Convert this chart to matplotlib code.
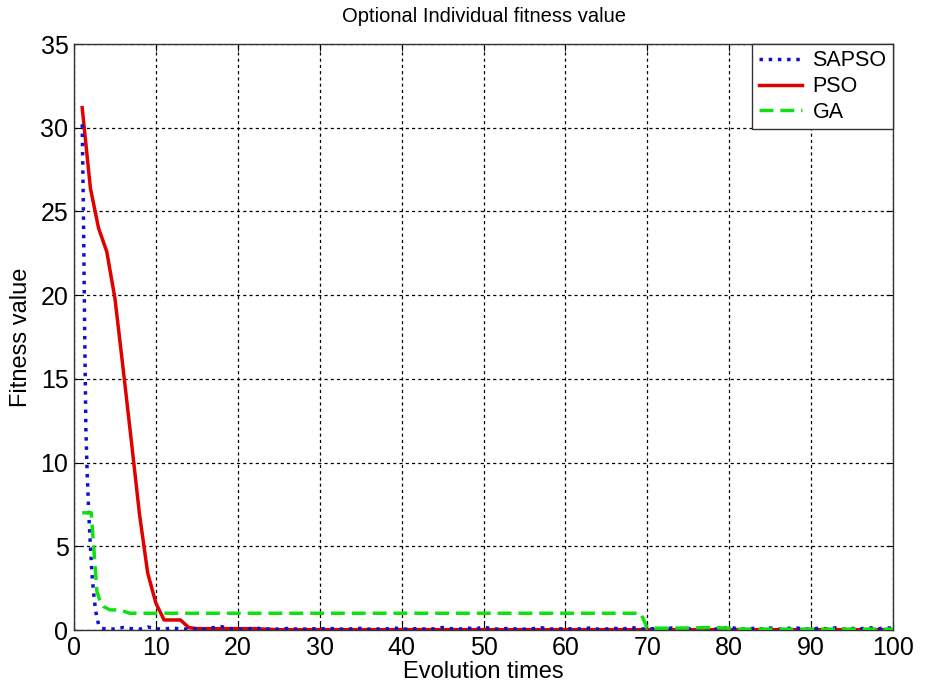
import matplotlib
matplotlib.use("Agg")
import matplotlib.pyplot as plt

plt.rcParams['font.family'] = ['Liberation Sans', 'DejaVu Sans']

# SAPSO: fast drop in the first generations, then noisy near zero
sapso_x = [1.0, 1.15, 1.3, 1.45, 1.6, 1.8, 2.0, 2.2, 2.4, 2.6, 2.8, 3.0, 3.4, 4.0]
sapso_y = [30.2, 25.0, 18.0, 12.0, 9.5, 7.0, 5.0, 3.3, 2.2, 1.3, 0.7, 0.35, 0.1, 0.05]
sapso_tail_x = list(range(5, 101))
sapso_tail_y = [0.06, 0.15, 0.08, 0.05, 0.18, 0.07, 0.05, 0.12, 0.06, 0.05,
                0.08, 0.05, 0.14, 0.20, 0.09, 0.06, 0.05, 0.12, 0.07, 0.05,
                0.05, 0.09, 0.06, 0.05, 0.08, 0.05, 0.11, 0.06, 0.05, 0.07,
                0.10, 0.05, 0.06, 0.05, 0.13, 0.06, 0.05, 0.09, 0.05, 0.07,
                0.15, 0.08, 0.05, 0.12, 0.06, 0.18, 0.07, 0.05, 0.10, 0.06,
                0.05, 0.08, 0.14, 0.06, 0.05, 0.09, 0.05, 0.07, 0.12, 0.05,
                0.06, 0.10, 0.05, 0.16, 0.07, 0.05, 0.09, 0.06, 0.12, 0.05,
                0.08, 0.05, 0.14, 0.06, 0.05, 0.18, 0.07, 0.05, 0.10, 0.06,
                0.12, 0.05, 0.08, 0.15, 0.06, 0.05, 0.11, 0.07, 0.13, 0.05,
                0.09, 0.06, 0.16, 0.05, 0.14, 0.10]

# PSO: steady decline to ~0 by generation 15
pso_x = [1, 2, 3, 4, 5, 6, 7, 8, 9, 10, 11, 12, 13, 14, 15, 22, 25, 100]
pso_y = [31.2, 26.4, 24.0, 22.6, 19.8, 15.6, 11.3, 6.9, 3.4, 1.6, 0.6, 0.6, 0.6,
         0.15, 0.08, 0.08, 0.02, 0.02]

# GA: plateau at ~1 until generation 69, then drops
ga_x = [1.0, 2.1, 2.4, 2.8, 3.2, 3.6, 4.4, 5.6, 6.2, 6.8, 69.2, 70.0, 75, 78, 80, 81, 100]
ga_y = [7.0, 7.0, 5.0, 2.3, 1.7, 1.4, 1.2, 1.2, 1.1, 1.0, 1.0, 0.1, 0.12, 0.15, 0.1,
        0.05, 0.05]

fig = plt.figure(figsize=(9.27, 6.86), dpi=100)
ax = fig.add_axes([74 / 927, 56 / 686, 819 / 927, 586 / 686])

ax.plot(sapso_x + sapso_tail_x, sapso_y + sapso_tail_y, color='#1010d0',
        linestyle=':', linewidth=2.5, label='SAPSO', zorder=3)
ax.plot(pso_x, pso_y, color='#e00000', linestyle='-', linewidth=2.5,
        label='PSO', zorder=2)
ax.plot(ga_x, ga_y, color='#10e010', linestyle='--', linewidth=2.5,
        dashes=(4, 2), label='GA', zorder=4)

ax.set_xlim(0, 100)
ax.set_ylim(0, 35)
ax.set_xticks(range(0, 101, 10))
ax.set_yticks(range(0, 36, 5))
ax.grid(True, color='black', linestyle=(0, (2.5, 2.5)), linewidth=0.9)
ax.tick_params(direction='in', top=True, right=True, labelsize=18, length=5,
               pad=4)
for sp in ax.spines.values():
    sp.set_linewidth(1.0)
    sp.set_color('#333333')

ax.set_xlabel('Evolution times', fontsize=17, labelpad=1)
ax.set_ylabel('Fitness value', fontsize=17, labelpad=6)
ax.set_title('Optional Individual fitness value', fontsize=14.5, pad=16)

leg = ax.legend(loc='upper right', fontsize=15.5, borderaxespad=0,
                fancybox=False, framealpha=1, edgecolor='#333333',
                handlelength=2.0, handletextpad=0.5, labelspacing=0.22,
                borderpad=0.3)
leg.get_frame().set_linewidth(1.0)

fig.savefig('out.png', dpi=100)
